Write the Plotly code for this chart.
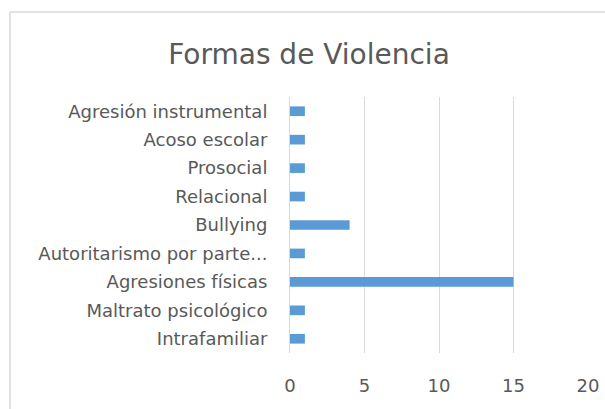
import plotly.graph_objects as go

categories = ["Intrafamiliar", "Maltrato psicológico", "Agresiones físicas",
              "Autoritarismo por parte...", "Bullying", "Relacional", "Prosocial",
              "Acoso escolar", "Agresión instrumental"]
values = [1, 1, 15, 1, 4, 1, 1, 1, 1]
x_ticks = [0, 5, 10, 15, 20]

W, H = 605, 409
L, R, T, B = 290, 17, 97, 56
PW, PH = W - L - R, H - T - B

FONT = "DejaVu Sans"
GREY = "#595959"

fig = go.Figure(go.Bar(
    x=values, y=categories, orientation="h",
    marker=dict(color="#5b9bd5", line=dict(width=0)),
))

fig.update_layout(
    width=W, height=H,
    margin=dict(l=L, r=R, t=T, b=B, pad=0, autoexpand=False),
    paper_bgcolor="white", plot_bgcolor="white",
    bargap=0.66,
    showlegend=False,
    font=dict(family=FONT, color=GREY),
    title=dict(text="Formas de Violencia", x=309 / W, xanchor="center",
               xref="container", y=1 - 54 / H, yanchor="middle",
               font=dict(size=28, color=GREY, family=FONT)),
    xaxis=dict(range=[0, 20], tickvals=x_ticks, showgrid=True,
               gridcolor="#d9d9d9", gridwidth=1, zeroline=False,
               showline=False, ticks="", tickfont=dict(size=18, color=GREY),
               ticklabelstandoff=20),
    yaxis=dict(showline=True, linecolor="#d9d9d9", linewidth=1,
               ticks="", tickfont=dict(size=18, color=GREY),
               ticklabelstandoff=18, showgrid=False),
)

# chart area border (as in the original, cut by the picture edge)
fig.add_shape(type="rect", xref="paper", yref="paper",
              x0=(10 - L) / PW, x1=(W + 10 - L) / PW,
              y0=-(B + 10) / PH, y1=(H - B - 12) / PH,
              line=dict(color="#d9d9d9", width=1.5), layer="below")

fig.write_html("out.html",
               config={"displayModeBar": False},
               post_script="document.body.style.margin='0px';document.body.style.overflow='hidden';")
